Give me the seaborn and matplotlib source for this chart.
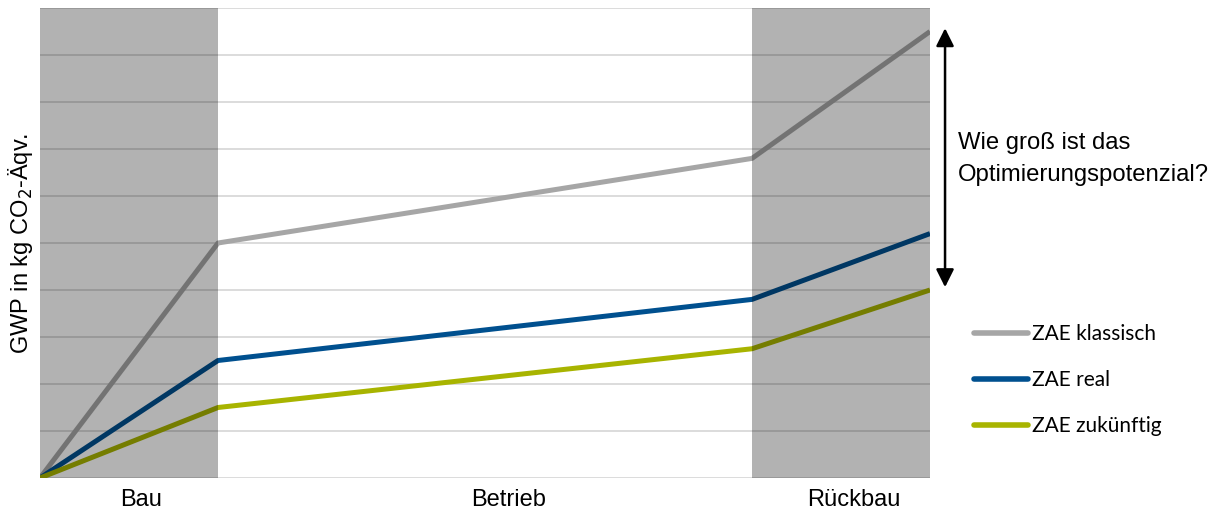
import matplotlib
matplotlib.use("Agg")
import matplotlib.pyplot as plt
import seaborn as sns
import pandas as pd
import numpy as np
from matplotlib.transforms import blended_transform_factory
from matplotlib.lines import Line2D

# ---- data ----
phase_pos = [0, 1, 4, 5]
series_names = ["ZAE klassisch", "ZAE real", "ZAE zukünftig"]
klassisch = [0, 5.0, 6.8, 9.5]
real = [0, 2.5, 3.8, 5.2]
zukuenftig = [0, 1.5, 2.75, 4.0]
phase_labels = ["Bau", "Betrieb", "Rückbau"]
phase_label_pos = [0.57, 2.63, 4.57]
shade_spans = [(0, 1), (4, 5)]
colors = ["#a6a6a6", "#00508f", "#a8b400"]

df = pd.DataFrame({
    "x": phase_pos * 3,
    "y": klassisch + real + zukuenftig,
    "Serie": [series_names[0]] * 4 + [series_names[1]] * 4 + [series_names[2]] * 4,
})

sns.set_theme(style="white")
plt.rcParams["font.family"] = ["Liberation Sans", "DejaVu Sans"]
plt.rcParams["text.color"] = "black"
plt.rcParams["axes.labelcolor"] = "black"
plt.rcParams["xtick.color"] = "black"
plt.rcParams["ytick.color"] = "black"

fig = plt.figure(figsize=(12.21, 5.13), dpi=100)
ax = fig.add_axes([40 / 1221, 35 / 513, 890 / 1221, 470 / 513])

sns.lineplot(data=df, x="x", y="y", hue="Serie", palette=colors,
             linewidth=3.6, ax=ax, legend=False, zorder=3,
             solid_capstyle="butt")

ax.set_xlim(0, 5)
ax.set_ylim(0, 10)
ax.set_yticks(np.arange(0, 11, 1))
ax.set_yticklabels([])
ax.grid(axis="y", color="#d9d9d9", linewidth=1.3, zorder=1)
ax.set_axisbelow(True)
for s in ax.spines.values():
    s.set_visible(False)
ax.tick_params(axis="both", length=0)
ax.set_xticks(phase_label_pos)
ax.set_xticklabels(phase_labels, fontsize=17, color="black")
ax.tick_params(axis="x", pad=8)
ax.set_xlabel("")
ax.set_ylabel("GWP in kg CO$_2$-Äqv.", fontsize=17, color="black")
ax.yaxis.set_label_coords(-0.006, 0.5)

for a, b in shade_spans:
    ax.axvspan(a, b, color="black", alpha=0.3, lw=0, zorder=5)

# arrow and text
trans = blended_transform_factory(ax.transAxes, ax.transData)
ax.annotate("", xy=(1.0169, 9.57), xytext=(1.0169, 4.06),
            xycoords=trans, textcoords=trans,
            arrowprops=dict(arrowstyle="<|-|>", color="black", lw=1.8,
                            mutation_scale=27, shrinkA=0, shrinkB=0),
            annotation_clip=False)
fig.text(958 / 1221, 1 - 159 / 513, "Wie groß ist das\nOptimierungspotenzial?",
         fontsize=17.2, va="center", ha="left", linespacing=1.55, color="black")

# legend
handles = [Line2D([0], [0], color=c, lw=4, solid_capstyle="round") for c in colors]
leg = fig.legend(handles, series_names, loc="upper left",
                 bbox_to_anchor=(974 / 1221, 1 - 324 / 513), frameon=False,
                 prop={"family": ["Lato", "DejaVu Sans"], "size": 15},
                 handlelength=2.6, handletextpad=0.2, labelspacing=1.25,
                 borderaxespad=0, borderpad=0)
for t in leg.get_texts():
    t.set_color("black")

fig.savefig("out.png", dpi=100)
